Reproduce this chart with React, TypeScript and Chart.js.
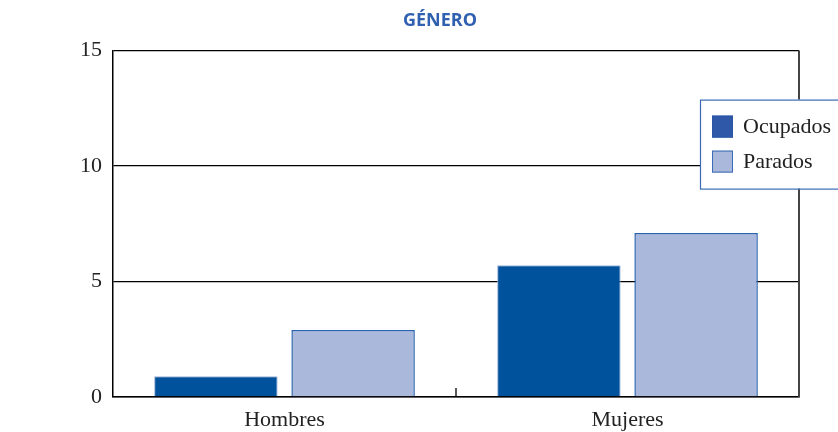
import React, { useEffect, useRef } from 'react';
import { Chart, registerables } from 'chart.js';

Chart.register(...registerables);

const categories = ['Hombres', 'Mujeres'];
const seriesNames = ['Ocupados', 'Parados'];
const ocupados = [0.9, 5.7];
const parados = [2.9, 7.1];
const yMin = 0;
const yMax = 15;
const yStep = 5;

const SERIF = "'Liberation Serif', 'Times New Roman', serif";

const framePlugin = {
  id: 'frame',
  beforeDatasetsDraw(chart: any) {
    const { ctx, chartArea, scales } = chart;
    ctx.save();
    ctx.strokeStyle = '#444';
    ctx.lineWidth = 2;
    ctx.beginPath();
    ctx.moveTo(chartArea.right, chartArea.top);
    ctx.lineTo(chartArea.right, chartArea.bottom);
    ctx.stroke();
    // inner tick at category boundary
    const x = scales.x;
    ctx.strokeStyle = '#000';
    ctx.lineWidth = 1.3;
    for (let i = 0; i < categories.length - 1; i++) {
      const mid = (x.getPixelForValue(i) + x.getPixelForValue(i + 1)) / 2;
      ctx.beginPath();
      ctx.moveTo(mid, chartArea.bottom);
      ctx.lineTo(mid, chartArea.bottom - 9);
      ctx.stroke();
    }
    ctx.restore();
  },
};

const legendPlugin = {
  id: 'customLegend',
  afterDraw(chart: any) {
    const { ctx, chartArea } = chart;
    const left = chartArea.right - 99;
    const top = chartArea.top + 49;
    ctx.save();
    ctx.fillStyle = '#fff';
    ctx.fillRect(left, top, 160, 89);
    ctx.strokeStyle = '#3a6bb5';
    ctx.lineWidth = 1.2;
    ctx.strokeRect(left + 0.5, top + 0.5, 160, 89);
    const swatchFill = ['#2f58a8', '#aab8db'];
    const swatchStroke = ['#2a55a5', '#3a6bb5'];
    chart.data.datasets.forEach((ds: any, i: number) => {
      const sy = top + 16 + i * 35;
      ctx.fillStyle = swatchFill[i];
      ctx.fillRect(left + 12, sy, 21, 22);
      ctx.strokeStyle = swatchStroke[i];
      ctx.lineWidth = 1;
      ctx.strokeRect(left + 12.5, sy + 0.5, 20, 21);
      ctx.fillStyle = '#222';
      ctx.font = `22px ${SERIF}`;
      ctx.textBaseline = 'middle';
      ctx.textAlign = 'left';
      ctx.fillText(ds.label, left + 43, sy + 12);
    });
    ctx.restore();
  },
};

export default function App() {
  const ref = useRef<HTMLCanvasElement>(null);
  useEffect(() => {
    if (!ref.current) return;
    const chart = new Chart(ref.current, {
      type: 'bar',
      data: {
        labels: categories,
        datasets: [
          {
            label: seriesNames[0],
            data: ocupados,
            backgroundColor: '#00529c',
            borderColor: '#9fb3da',
            borderWidth: 1,
          },
          {
            label: seriesNames[1],
            data: parados,
            backgroundColor: '#aab8db',
            borderColor: '#2a62ad',
            borderWidth: 1.5,
          },
        ],
      },
      options: {
        animation: false,
        responsive: true,
        maintainAspectRatio: false,
        layout: { padding: { left: 81, right: 39, top: 0, bottom: 0 } },
        datasets: { bar: { categoryPercentage: 0.8, barPercentage: 0.9 } },
        plugins: {
          legend: { display: false },
          tooltip: { enabled: false },
          title: {
            display: true,
            text: 'GÉNERO',
            color: '#3060b0',
            font: { family: "'Open Sans', sans-serif", weight: 'bold', size: 18 },
            padding: { top: 10, bottom: 19 },
          },
        },
        scales: {
          x: {
            grid: { display: false, drawTicks: false },
            border: { display: true, color: '#000', width: 1.5 },
            ticks: { color: '#222', font: { family: SERIF, size: 22 }, padding: 10 },
            afterFit: (s: any) => { s.height = 35; },
          },
          y: {
            min: yMin,
            max: yMax,
            ticks: { stepSize: yStep, color: '#222', font: { family: SERIF, size: 22 }, padding: 11 },
            grid: { color: '#000', lineWidth: 1.3, drawTicks: false },
            border: { color: '#000', width: 1.5 },
            afterFit: (s: any) => { s.width = 32; },
          },
        },
      },
      plugins: [framePlugin, legendPlugin],
    });
    return () => chart.destroy();
  }, []);
  return (
    <div style={{ position: 'absolute', left: 0, top: 0, width: 838, height: 432 }}>
      <canvas ref={ref} />
    </div>
  );
}
